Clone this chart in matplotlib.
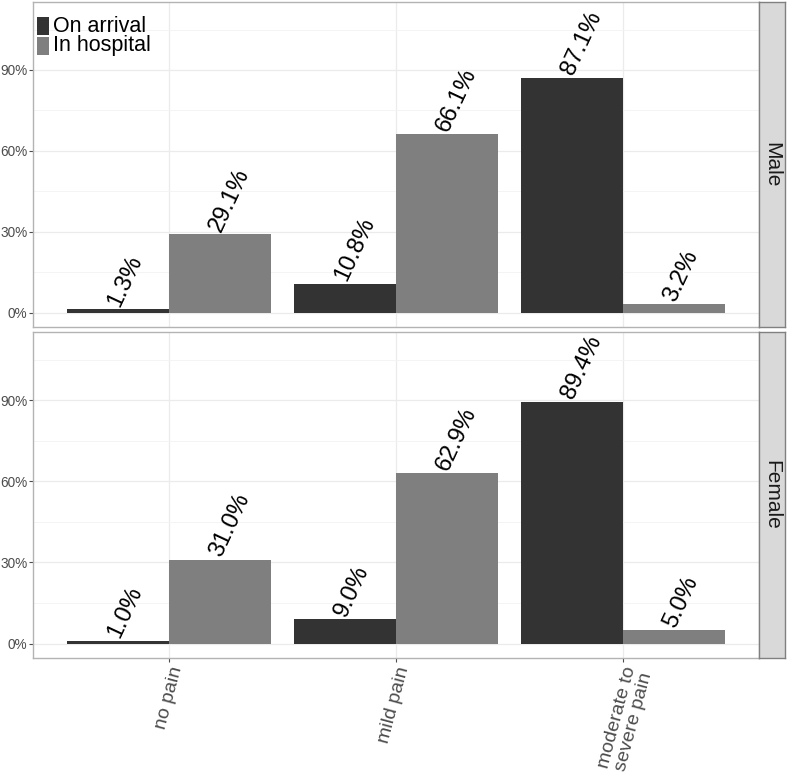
import matplotlib
matplotlib.use("Agg")
import matplotlib.pyplot as plt
from matplotlib.patches import Rectangle
import numpy as np

plt.rcParams['font.family'] = ['Liberation Sans', 'DejaVu Sans']

categories = ["no pain", "mild pain", "moderate to\nsevere pain"]
series = ["On arrival", "In hospital"]
panels = ["Male", "Female"]
male_arrival = [1.3, 10.8, 87.1]
male_hospital = [29.1, 66.1, 3.2]
female_arrival = [1.0, 9.0, 89.4]
female_hospital = [31.0, 62.9, 5.0]
yticks = [0, 30, 60, 90]
ytick_labels = ["0%", "30%", "60%", "90%"]

data = {"Male": (male_arrival, male_hospital),
        "Female": (female_arrival, female_hospital)}
colors = ["#333333", "#7f7f7f"]

W, H = 787, 779
fig = plt.figure(figsize=(W / 100, H / 100), dpi=100)

left, right, strip_r = 33 / W, 759 / W, 785 / W
panel_px = [(2, 327), (332, 658)]
x = np.arange(1, len(categories) + 1)
bw = 0.45

for i, name in enumerate(panels):
    t, b = panel_px[i]
    ax = fig.add_axes([left, 1 - b / H, right - left, (b - t) / H])
    ax.set_xlim(0.4, 3.6)
    ax.set_ylim(-5.3, 115.2)
    ax.set_yticks(yticks)
    ax.set_yticks([15, 45, 75, 105], minor=True)
    ax.set_xticks(x)
    ax.grid(True, which='major', color='#ebebeb', lw=0.9, zorder=0)
    ax.grid(True, which='minor', axis='y', color='#f3f3f3', lw=0.6, zorder=0)
    ax.set_axisbelow(True)
    for sp in ax.spines.values():
        sp.set_color('#b3b3b3')
        sp.set_linewidth(1.0)
    ax.tick_params(which='minor', length=0)
    ax.tick_params(which='major', color='#4d4d4d', length=3, width=0.8,
                   labelcolor='#4d4d4d', pad=1)
    ax.set_yticklabels(ytick_labels, fontsize=9.8)
    vals = data[name]
    for j, s in enumerate(series):
        xs = x + (j - 0.5) * bw
        ax.bar(xs, vals[j], width=bw, color=colors[j], zorder=2, label=s)
        for xx, v in zip(xs, vals[j]):
            ax.text(xx - 0.02, v + 1.5, f"{v:.1f}%", rotation=65, rotation_mode='anchor',
                    ha='left', va='center', fontsize=17, color='black', zorder=3)
    if i == 0:
        ax.tick_params(axis='x', labelbottom=False, length=0)
    else:
        ax.tick_params(axis='x', pad=2)
        ax.set_xticklabels(categories, rotation=75, fontsize=14, color='#4d4d4d',
                           ha='right', va='top', rotation_mode='anchor',
                           multialignment='center', linespacing=1.0)
    # strip
    sax = fig.add_axes([right, 1 - b / H, strip_r - right, (b - t) / H])
    sax.set_xticks([]); sax.set_yticks([])
    sax.set_facecolor('#d9d9d9')
    for sp in sax.spines.values():
        sp.set_color('#808080')
        sp.set_linewidth(1.0)
    sax.text(0.5, 0.5, name, rotation=-90, ha='center', va='center',
             fontsize=15, color='#1a1a1a', transform=sax.transAxes)

# legend (inside top panel, top-left)
key_tops = [17, 37]
for c, s, kt in zip(colors, series, key_tops):
    fig.patches.append(Rectangle((37 / W, 1 - (kt + 18) / H), 12 / W, 18 / H,
                                 transform=fig.transFigure, facecolor=c,
                                 edgecolor='none', zorder=5))
    fig.text(53 / W, 1 - (kt + 9) / H, s, ha='left', va='center',
             fontsize=15.5, color='black', zorder=5)

fig.savefig("out.png", dpi=100, facecolor='white')
